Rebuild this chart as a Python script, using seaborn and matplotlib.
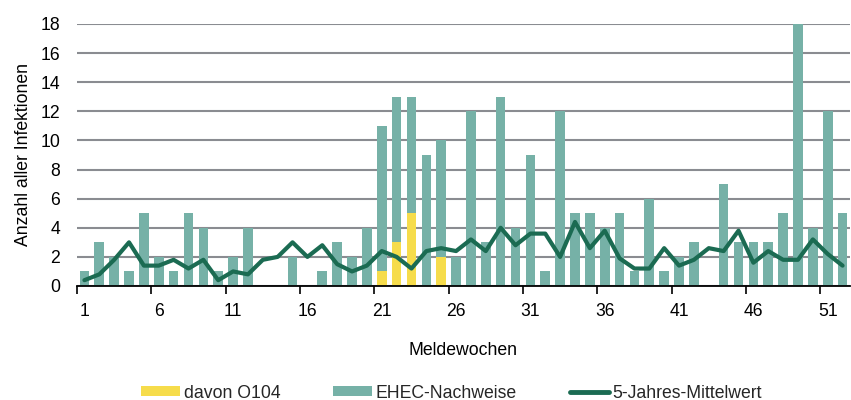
import numpy as np
import pandas as pd
import matplotlib
matplotlib.use("Agg")
import matplotlib.pyplot as plt
from matplotlib.patches import Patch
from matplotlib.lines import Line2D
import seaborn as sns

weeks = list(range(1, 53))
ehec = [1, 3, 2, 1, 5, 2, 1, 5, 4, 1, 2, 4, 0, 0, 2, 0, 1, 3, 2, 4,
        11, 13, 13, 9, 10, 2, 12, 3, 13, 4, 9, 1, 12, 5, 5, 4, 5, 1, 6, 1,
        2, 3, 0, 7, 3, 3, 3, 5, 18, 4, 12, 5]
o104 = [0] * 20 + [1, 3, 5, 0, 2] + [0] * 27
mean5 = [0.4, 0.8, 1.8, 3.0, 1.4, 1.4, 1.8, 1.2, 1.8, 0.4, 1.0, 0.8, 1.8, 2.0, 3.0, 2.0, 2.8, 1.5, 1.0, 1.4,
         2.4, 2.0, 1.2, 2.4, 2.6, 2.4, 3.2, 2.4, 4.0, 2.8, 3.6, 3.6, 2.0, 4.4, 2.6, 3.8, 1.9, 1.2, 1.2, 2.6,
         1.4, 1.8, 2.6, 2.4, 3.8, 1.6, 2.4, 1.8, 1.8, 3.2, 2.2, 1.4]
tick_weeks = [1, 6, 11, 16, 21, 26, 31, 36, 41, 46, 51]
yticks = [0, 2, 4, 6, 8, 10, 12, 14, 16, 18]

df = pd.DataFrame({"Woche": weeks, "EHEC": ehec, "O104": o104, "Mittel": mean5})

teal = "#76B1A7"
yellow = "#F6DC4B"
dark = "#1B6B52"
grid_c = "#8A8C91"
fs = 12.7

sns.set_theme(style="white")
plt.rcParams["font.family"] = ["Liberation Sans", "DejaVu Sans"]

fig = plt.figure(figsize=(8.51, 4.0), dpi=100)
ax = fig.add_axes([77 / 851, 1 - 286 / 400, (850 - 77) / 851, (286 - 24) / 400])

sns.barplot(data=df, x="Woche", y="EHEC", native_scale=True, color=teal, saturation=1,
            width=0.65, linewidth=0, ax=ax, zorder=2, errorbar=None)
sns.barplot(data=df, x="Woche", y="O104", native_scale=True, color=yellow, saturation=1,
            width=0.65, linewidth=0, ax=ax, zorder=3, errorbar=None)
sns.lineplot(data=df, x="Woche", y="Mittel", color=dark, linewidth=3.0, ax=ax, zorder=4)

ax.set_xlim(0.5, 52.5)
ax.set_ylim(0, 18)
ax.set_yticks(yticks)
ax.set_yticklabels([str(v) for v in yticks])
ax.yaxis.grid(True, color=grid_c, linewidth=1.5, zorder=0)
ax.set_axisbelow(True)
ax.tick_params(axis="y", length=0, pad=12, labelsize=fs, labelcolor="black")

ax.set_xticks(tick_weeks)
ax.set_xticklabels([str(w) for w in tick_weeks])
ax.set_xticks([w - 0.5 for w in tick_weeks], minor=True)
ax.tick_params(axis="x", which="major", length=0, pad=12, labelsize=fs, labelcolor="black")
ax.tick_params(axis="x", which="minor", length=6, width=1.2, color="black", direction="out", bottom=True)

for s in ["top", "right", "left"]:
    ax.spines[s].set_visible(False)
ax.spines["bottom"].set_color("black")
ax.spines["bottom"].set_linewidth(1.3)
ax.spines["bottom"].set_zorder(5)

ax.set_xlabel("Meldewochen", fontsize=fs, labelpad=16, color="black")
ax.set_ylabel("Anzahl aller Infektionen", fontsize=fs, labelpad=6, color="black")

handles = [Patch(facecolor=yellow, edgecolor="none"),
           Patch(facecolor=teal, edgecolor="none"),
           Line2D([0], [0], color=dark, linewidth=3.5)]
labels = ["davon O104", "EHEC-Nachweise", "5-Jahres-Mittelwert"]
leg = fig.legend(handles, labels, loc="center left", bbox_to_anchor=(141 / 851, 1 - 393 / 400),
                 ncol=3, frameon=False, fontsize=fs, handlelength=2.2, handleheight=0.45,
                 handletextpad=0.22, columnspacing=3.0, borderpad=0, borderaxespad=0)

fig.savefig("out.png", dpi=100)
